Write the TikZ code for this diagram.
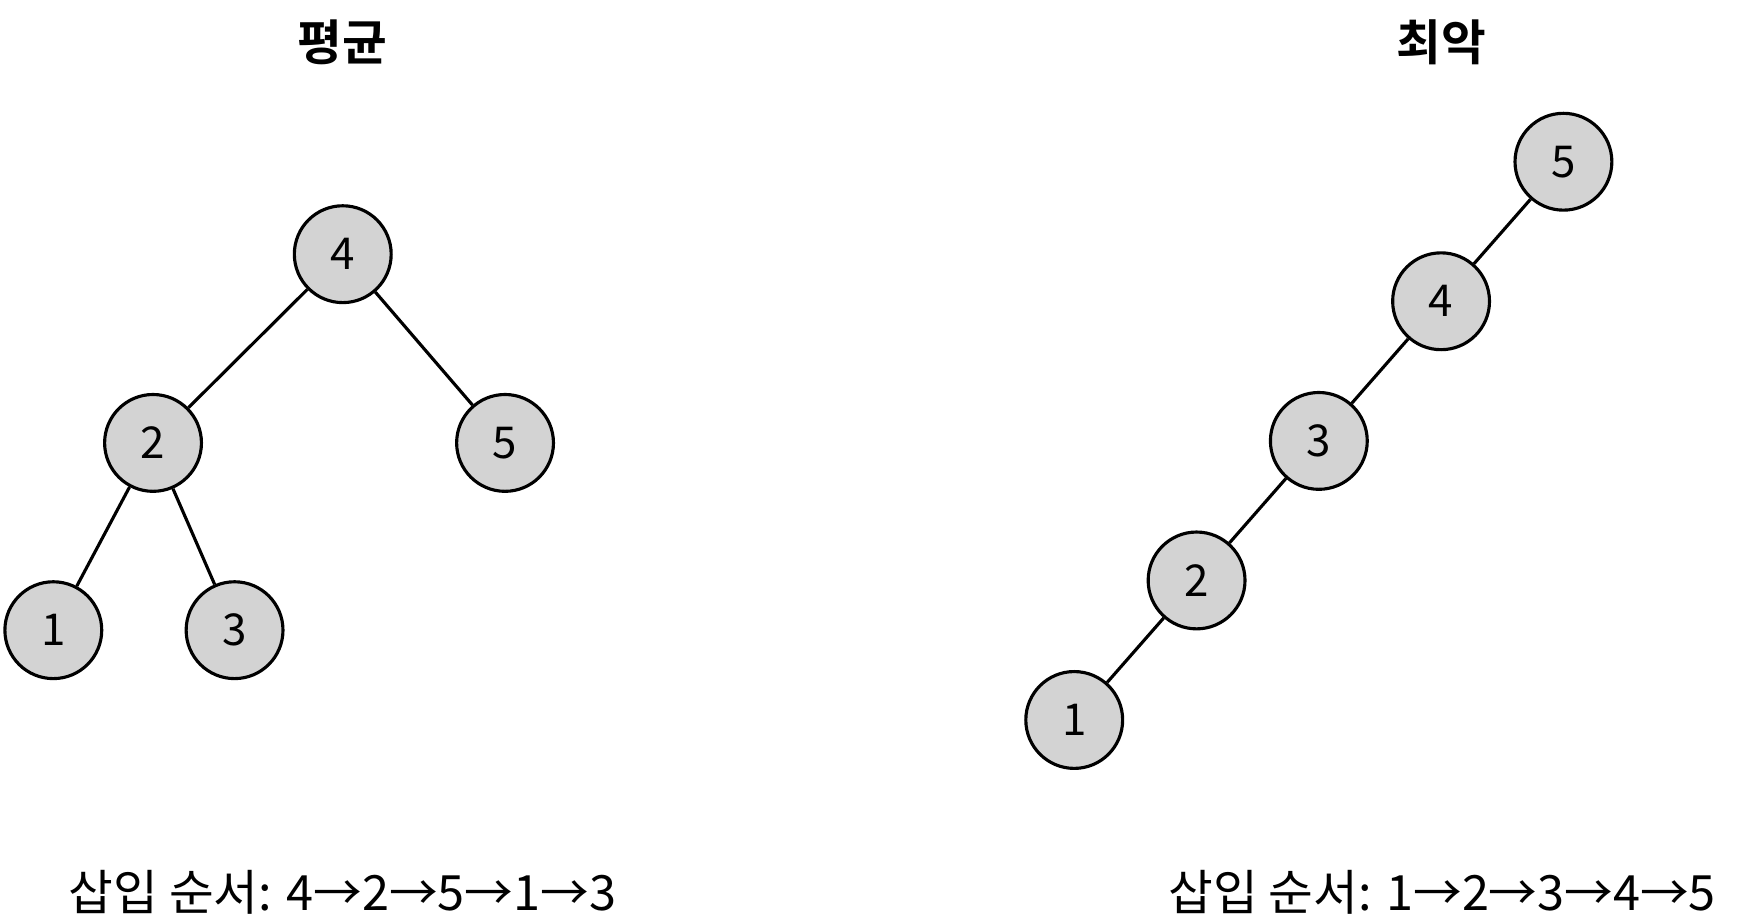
\documentclass[tikz,border=0pt]{standalone}
\usepackage{fontspec}
\setmainfont{Noto Sans CJK KR}
\newfontfamily\krbold{Noto Sans CJK KR Bold}
\definecolor{nodefill}{HTML}{D3D3D3}
\begin{document}
\begin{tikzpicture}[x=0.025cm,y=-0.025cm,
  treenode/.style={circle,draw=black,line width=2pt,fill=nodefill,minimum size=2.17cm,inner sep=0pt,font=\fontsize{28}{32}\selectfont},
  edge/.style={draw=black,line width=2pt},
  title/.style={font=\krbold\fontsize{31}{36}\selectfont},
  caption/.style={font=\fontsize{31}{36}\selectfont}]
\useasboundingbox (0,0) rectangle (1560,828.4);
% left tree
\node[title] (tl) at (307,38) {평균};
\node[treenode] (a4) at (307.3,227.9) {4};
\node[treenode] (a2) at (137.2,397.1) {2};
\node[treenode] (a5) at (452.8,397.1) {5};
\node[treenode] (a1) at (47.8,565) {1};
\node[treenode] (a3) at (210.3,565) {3};
\draw[edge] (a4) -- (a2);
\draw[edge] (a4) -- (a5);
\draw[edge] (a2) -- (a1);
\draw[edge] (a2) -- (a3);
\node[caption] (cl) at (307,800) {삽입 순서: 4→2→5→1→3};
% right tree
\node[title] (tr) at (1292,38) {최악};
\node[treenode] (b5) at (1401.7,145) {5};
\node[treenode] (b4) at (1292,270.1) {4};
\node[treenode] (b3) at (1182.4,395.3) {3};
\node[treenode] (b2) at (1072.8,520.4) {2};
\node[treenode] (b1) at (963.1,645.5) {1};
\draw[edge] (b5) -- (b4);
\draw[edge] (b4) -- (b3);
\draw[edge] (b3) -- (b2);
\draw[edge] (b2) -- (b1);
\node[caption] (cr) at (1293,800) {삽입 순서: 1→2→3→4→5};
\end{tikzpicture}
\end{document}
